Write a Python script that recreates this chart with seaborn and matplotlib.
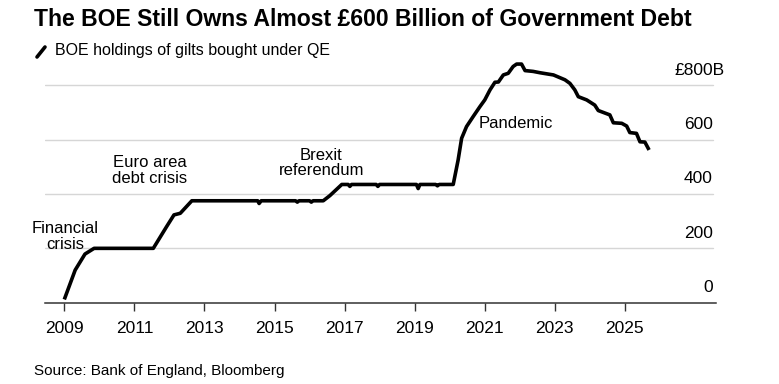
import numpy as np
import pandas as pd
import matplotlib
matplotlib.use("Agg")
import matplotlib.pyplot as plt
import matplotlib.transforms as mtransforms
from matplotlib.lines import Line2D
import seaborn as sns

# ---- data ----
years = [2009.0, 2009.31, 2009.59, 2009.85, 2011.54, 2011.92, 2012.13, 2012.31, 2012.64,
         2014.52, 2014.56, 2014.62, 2015.6, 2015.65, 2015.7, 2016.0, 2016.05, 2016.1, 2016.39,
         2016.58, 2016.92, 2017.1, 2017.15, 2017.2, 2017.9, 2017.95, 2018.0,
         2019.05, 2019.1, 2019.15, 2019.6, 2019.65, 2019.7, 2020.10,
         2020.24, 2020.34, 2020.48, 2020.67, 2020.86, 2021.0, 2021.15, 2021.29, 2021.39,
         2021.53, 2021.67, 2021.81, 2021.91, 2022.05, 2022.15, 2022.38, 2022.58, 2022.96,
         2023.29, 2023.43, 2023.57, 2023.67, 2023.91, 2024.14, 2024.24, 2024.57, 2024.67,
         2024.91, 2025.05, 2025.14, 2025.33, 2025.43, 2025.57, 2025.69]
holdings = [12, 120, 179, 200, 200, 280, 323, 329, 375,
            375, 365, 375, 375, 370, 375, 375, 370, 375, 375,
            394, 435, 435, 428, 435, 435, 428, 435,
            435, 420, 435, 435, 430, 435, 435,
            525, 605, 648, 685, 721, 746, 783, 811, 812,
            838, 844, 869, 878, 878, 854, 851, 846, 838,
            820, 807, 783, 758, 746, 727, 707, 691, 662,
            660, 650, 626, 623, 592, 591, 562]
xticks = [2009, 2011, 2013, 2015, 2017, 2019, 2021, 2023, 2025]
yticks = [0, 200, 400, 600, 800]
ytick_labels = ["0", "200", "400", "600", "£800B"]
annotations = [("Financial\ncrisis", 2009.02, 244),
               ("Euro area\ndebt crisis", 2011.43, 487),
               ("Brexit\nreferendum", 2016.33, 514),
               ("Pandemic", 2021.89, 658)]

df = pd.DataFrame({"year": years, "holdings": holdings})

W, H, DPI = 779, 384, 100
sns.set_theme(style="white")
plt.rcParams['font.family'] = ['Liberation Sans', 'DejaVu Sans']

fig = plt.figure(figsize=(W / DPI, H / DPI), dpi=DPI)
ax = fig.add_axes([45 / W, (H - 302.7) / H, (716 - 45) / W, (302.7 - 60.8) / H])

sns.lineplot(data=df, x="year", y="holdings", ax=ax, color="black", linewidth=2.6,
             solid_joinstyle="round", solid_capstyle="butt")

ax.set_xlim(2008.449, 2027.6)
ax.set_ylim(0, 890)
ax.set_xlabel("")
ax.set_ylabel("")

# grid
for v in yticks[1:]:
    ax.plot([2008.449, 2008.449 + (713 - 45) / 35.04], [v, v], color="#d6d6d6", lw=1.0, zorder=0)

for s in ["top", "right", "left"]:
    ax.spines[s].set_visible(False)
ax.spines["bottom"].set_color("#333333")
ax.spines["bottom"].set_linewidth(1.1)

ax.set_xticks(xticks)
ax.set_xticklabels([str(x) for x in xticks])
ax.tick_params(axis="x", length=6, width=1, color="#333333", pad=7, labelsize=12.5, labelcolor="black", bottom=True)

ax.yaxis.tick_right()
ax.set_yticks(yticks)
ax.set_yticklabels(ytick_labels)
ax.tick_params(axis="y", length=0, pad=-3 * 0.72, labelsize=12.5, labelcolor="black")
for lab, v in zip(ax.get_yticklabels(), yticks):
    lab.set_ha("right")
    lab.set_va("center")
    dx = 12 / DPI if v == 800 else 0
    lab.set_transform(lab.get_transform() + mtransforms.ScaledTranslation(dx, 15 / DPI, fig.dpi_scale_trans))

for txt, x, y in annotations:
    ax.text(x, y, txt, ha="center", va="center", fontsize=12, color="black", linespacing=1.05)

fig.text(34 / W, 1 - 19 / H, "The BOE Still Owns Almost £600 Billion of Government Debt",
         fontsize=16.6, fontweight="bold", ha="left", va="center", color="black")
fig.add_artist(Line2D([37 / W, 45 / W], [1 - 57 / H, 1 - 47 / H], color="black", lw=2.6,
                      transform=fig.transFigure))
fig.text(55 / W, 1 - 51 / H, "BOE holdings of gilts bought under QE",
         fontsize=11.5, ha="left", va="center", color="black")
fig.text(34 / W, 1 - 371 / H, "Source: Bank of England, Bloomberg",
         fontsize=11, ha="left", va="center", color="black")

fig.savefig("out.png", dpi=DPI)
